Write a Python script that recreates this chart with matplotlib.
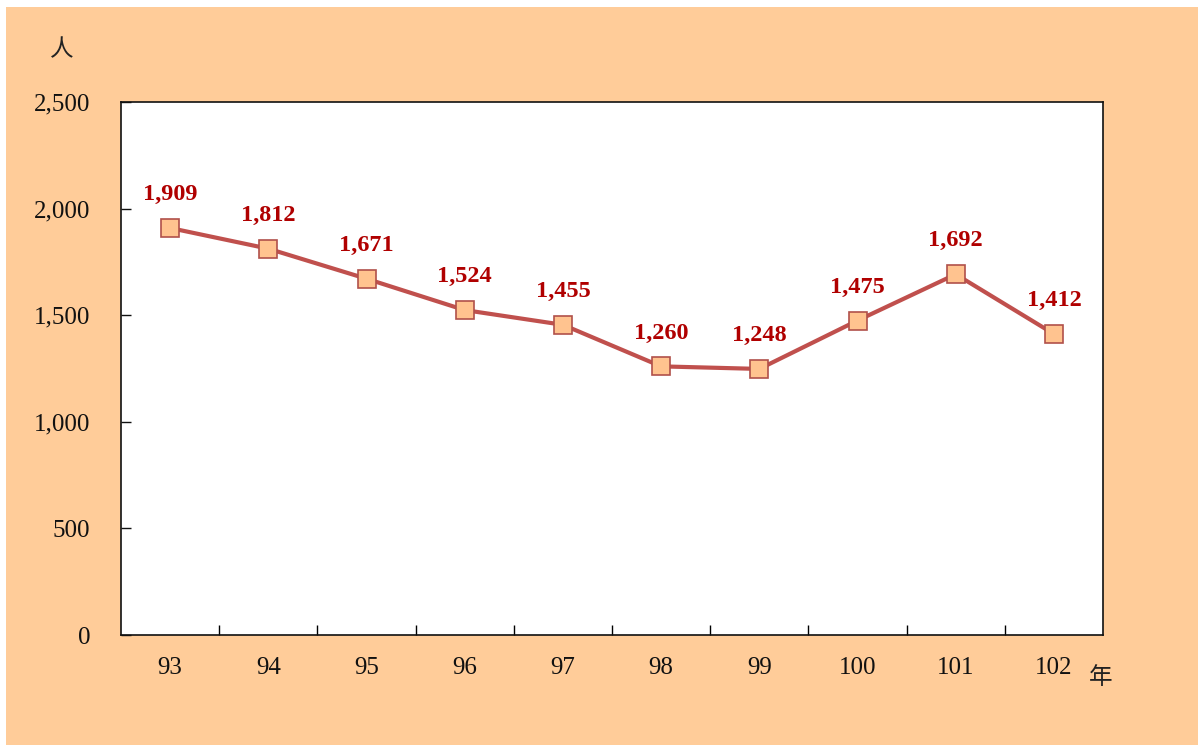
import matplotlib.pyplot as plt
from matplotlib.patches import Rectangle

years = ['93', '94', '95', '96', '97', '98', '99', '100', '101', '102']
people = [1909, 1812, 1671, 1524, 1455, 1260, 1248, 1475, 1692, 1412]
y_ticks = [0, 500, 1000, 1500, 2000, 2500]

serif = ['Liberation Serif', 'DejaVu Serif']
cjk = ['Noto Sans CJK TC', 'DejaVu Sans']

fig = plt.figure(figsize=(11.98, 7.45), dpi=100)
fig.patch.set_facecolor('white')
# peach background panel (behind the axes)
fig.add_artist(Rectangle((6 / 1198, 0), 1 - 6 / 1198, 1 - 7 / 745,
                         transform=fig.transFigure, facecolor='#FFCC99',
                         edgecolor='none', zorder=-10))

ax = fig.add_axes([121 / 1198, 1 - 635 / 745, (1103 - 121) / 1198, (635 - 102) / 745])
ax.set_facecolor('white')

x = list(range(len(years)))
ax.plot(x, people, color='#C0504D', linewidth=3, marker='s', markersize=13,
        markerfacecolor='#FFC38F', markeredgecolor='#B0504A', markeredgewidth=1.2,
        zorder=3)

for xi, v in zip(x, people):
    ax.annotate(f'{v:,}', (xi, v), xytext=(0, 24), textcoords='offset points',
                ha='center', va='center', color='#B00000', fontsize=17.5,
                fontweight='bold', family=serif)

ax.set_xlim(-0.5, len(years) - 0.5)
ax.set_ylim(0, 2500)
ax.set_yticks(y_ticks)
ax.set_yticklabels([f'{t:,}' for t in y_ticks], family=serif, fontsize=18)
ax.set_xticks(x)
ax.set_xticklabels(years, family=serif, fontsize=18)
ax.set_xticks([i - 0.5 for i in range(1, len(years))], minor=True)

ax.tick_params(axis='y', direction='in', length=7, width=1, pad=22, colors='#111111')
ax.tick_params(axis='x', which='major', length=0, pad=16, colors='#111111')
ax.tick_params(axis='x', which='minor', direction='in', length=7, width=1)

for s in ax.spines.values():
    s.set_color('#111111')
    s.set_linewidth(1.2)

fig.text(62 / 1198, 1 - 50 / 745, '人', family=cjk, fontsize=17, ha='center',
         va='center', color='#222222')
fig.text(1101 / 1198, 1 - 677 / 745, '年', family=cjk, fontsize=17, ha='center',
         va='center', color='#222222')

fig.savefig('out.png', dpi=100)
